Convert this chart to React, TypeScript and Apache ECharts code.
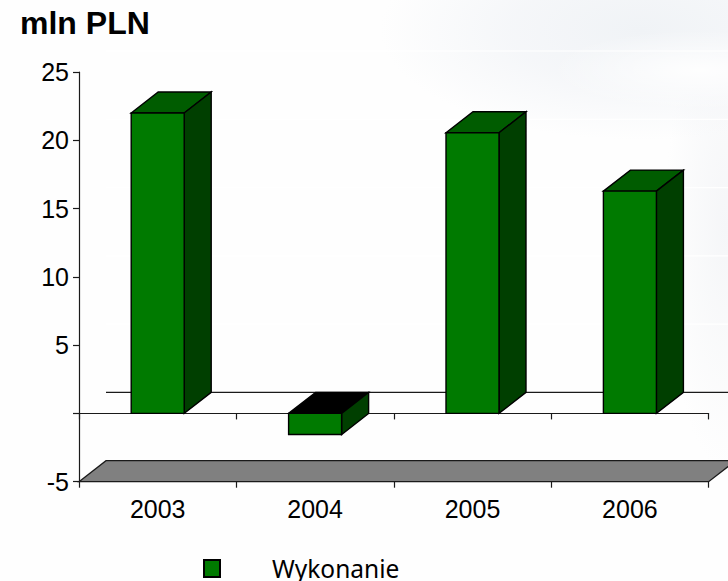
import React, { useEffect, useRef } from "react";
import * as echarts from "echarts";

const categories = ["2003", "2004", "2005", "2006"];
const values = [22, -1.54, 20.55, 16.28];
const seriesName = "Wykonanie";
const titleText = "mln PLN";
const wallGridValues = [25, 20, 15, 10, 5];

const FRONT = "#007a00";
const TOP = "#005c00";
const SIDE = "#003f00";
const LINE = "#1a1a1a";
const DX = 27;
const DY = 21;
const BAR_RATIO = 53 / 157.4;

const edge = { stroke: "#000", lineWidth: 1.4 };

const renderBar = (params: any, api: any) => {
  const cat = api.value(0);
  const v = api.value(1);
  const p = api.coord([cat, v]);
  const base = api.coord([cat, 0]);
  const w = api.size([1, 0])[0] * BAR_RATIO;
  const l = p[0] - w / 2;
  const r = p[0] + w / 2;
  const top = Math.min(p[1], base[1]);
  const bot = Math.max(p[1], base[1]);
  const topFill = v < 0 ? "#000000" : TOP;
  return {
    type: "group",
    children: [
      { type: "polygon", shape: { points: [[l, top], [l + DX, top - DY], [r + DX, top - DY], [r, top]] }, style: { fill: topFill, ...edge } },
      { type: "polygon", shape: { points: [[r, top], [r + DX, top - DY], [r + DX, bot - DY], [r, bot]] }, style: { fill: SIDE, ...edge } },
      { type: "polygon", shape: { points: [[l, top], [r, top], [r, bot], [l, bot]] }, style: { fill: FRONT, ...edge } },
    ],
  };
};

const renderFloor = (params: any, api: any) => {
  const c = params.coordSys;
  const y = api.coord([0, api.value(0)])[1];
  const x0 = c.x;
  const x1 = c.x + c.width;
  return {
    type: "polygon",
    shape: { points: [[x0, y], [x0 + DX, y - DY], [x1 + DX, y - DY], [x1, y]] },
    style: { fill: "#808080", stroke: LINE, lineWidth: 1.3 },
  };
};

const renderWallLine = (color: string) => (params: any, api: any) => {
  const c = params.coordSys;
  const y = api.coord([0, api.value(0)])[1] - DY;
  return {
    type: "line",
    shape: { x1: c.x + DX, y1: y, x2: c.x + c.width + DX, y2: y },
    style: { stroke: color, lineWidth: 1.2 },
  };
};

export default function App() {
  const ref = useRef<HTMLDivElement>(null);
  useEffect(() => {
    const chart = echarts.init(ref.current!, null, { renderer: "svg" });
    const axisLine = { show: true, lineStyle: { color: LINE, width: 1.2 } };
    const axisTick = { show: true, length: 6, alignWithLabel: false, lineStyle: { color: LINE, width: 1.2 } };
    chart.setOption({
      animation: false,
      backgroundColor: "transparent",
      title: {
        text: titleText,
        left: 15,
        top: 2,
        textStyle: { fontFamily: "Liberation Sans", fontWeight: "bold", fontSize: 32, color: "#000" },
      },
      legend: {
        data: [{ name: seriesName, icon: "rect" }],
        left: 203,
        top: 556,
        padding: 0,
        itemWidth: 16,
        itemHeight: 17,
        itemStyle: { color: FRONT, borderColor: "#000", borderWidth: 2 },
        textStyle: { fontFamily: "Noto Sans", fontSize: 24.5, lineHeight: 22, color: "#000", padding: [0, 0, 0, 47] },
      },
      grid: { left: 79, top: 72, width: 629.6, height: 409.7, containLabel: false },
      xAxis: [
        {
          type: "category",
          data: categories,
          position: "bottom",
          axisLine: { ...axisLine, onZero: false },
          axisTick,
          axisLabel: { fontFamily: "Liberation Sans", fontSize: 25, color: "#000", margin: 15 },
        },
        {
          type: "category",
          data: categories,
          position: "bottom",
          axisLine: { ...axisLine, onZero: true },
          axisTick,
          axisLabel: { show: false },
        },
      ],
      yAxis: {
        type: "value",
        min: -5,
        max: 25,
        interval: 5,
        axisLine: { ...axisLine, onZero: false },
        axisTick,
        splitLine: { show: false },
        axisLabel: {
          fontFamily: "Liberation Sans",
          fontSize: 25,
          color: "#000",
          margin: 10,
          formatter: (v: number) => (v === 0 ? "" : String(v)),
        },
      },
      series: [
        { type: "custom", name: "wall", coordinateSystem: "cartesian2d", z: 1, silent: true, renderItem: renderWallLine("#ffffff"), data: wallGridValues.map((v) => [v]), encode: { y: 0 } },
        { type: "custom", name: "zero", coordinateSystem: "cartesian2d", z: 1, silent: true, renderItem: renderWallLine(LINE), data: [[0]], encode: { y: 0 } },
        { type: "custom", name: "floor", coordinateSystem: "cartesian2d", z: 1, silent: true, renderItem: renderFloor, data: [[-5]], encode: { y: 0 } },
        {
          type: "custom",
          name: seriesName,
          coordinateSystem: "cartesian2d",
          z: 5,
          itemStyle: { color: FRONT },
          renderItem: renderBar,
          data: categories.map((_, i) => [i, values[i]]),
          encode: { x: 0, y: 1 },
        },
      ],
    });
    return () => chart.dispose();
  }, []);

  return (
    <div
      style={{
        position: "fixed",
        left: 0,
        top: 0,
        width: 728,
        height: 581,
        background:
          "radial-gradient(ellipse 150px 40px at 700px 70px, rgba(255,255,255,0.9), rgba(255,255,255,0) 100%)," +
          "radial-gradient(ellipse 260px 110px at 640px 30px, #f0f3f6 0%, rgba(243,245,248,0.8) 50%, rgba(255,255,255,0) 100%)," +
          "radial-gradient(ellipse 60px 240px at 725px 230px, #f5f6f8 0%, rgba(255,255,255,0) 100%)," +
          "#fefefe",
      }}
    >
      <div ref={ref} style={{ width: 728, height: 581 }} />
    </div>
  );
}
